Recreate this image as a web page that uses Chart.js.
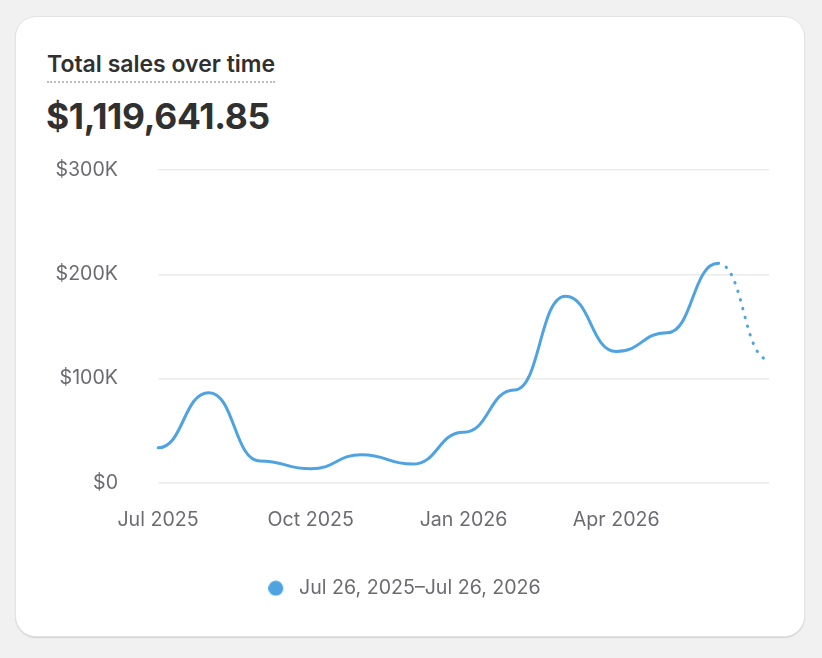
<!DOCTYPE html>
<html>
<head>
<meta charset="utf-8">
<script src="https://cdn.jsdelivr.net/npm/chart.js@4"></script>
<style>
  html, body { margin: 0; padding: 0; }
  body { width: 822px; height: 658px; background: #f1f1f1; position: relative; overflow: hidden; font-family: Inter, "Noto Sans", sans-serif; }
  .card { position: absolute; left: 16px; top: 17px; width: 788px; height: 619px; background: #fff; border-radius: 20px; box-shadow: 0 0 0 1px #e4e4e4, 0 1px 1px 1px #d2d2d2; }
  .title { position: absolute; left: 47px; top: 50px; font-size: 23px; font-weight: 600; color: #303030; line-height: 28px; border-bottom: 2px dotted #bdbdbd; padding-bottom: 3px; }
  .total { position: absolute; left: 46px; top: 95px; font-size: 35.4px; font-weight: 700; color: #303030; line-height: 44px; letter-spacing: -0.3px; }
  #wrap { position: absolute; left: 0; top: 0; width: 822px; height: 658px; }
</style>
</head>
<body>
<div class="card"></div>
<div class="title">Total sales over time</div>
<div class="total">$1,119,641.85</div>
<div id="wrap"><canvas id="salesChart"></canvas></div>
<script>
// --- data ---
const months = ["Jul 2025", "Aug 2025", "Sep 2025", "Oct 2025", "Nov 2025", "Dec 2025",
  "Jan 2026", "Feb 2026", "Mar 2026", "Apr 2026", "May 2026", "Jun 2026", "Jul 2026"];
const sales = [33600, 86500, 21000, 13500, 27000, 18000, 48500, 89000, 179000, 126000, 144000, 210500, 118000];
const yTicks = [0, 100000, 200000, 300000];
const rangeLabel = "Jul 26, 2025\u2013Jul 26, 2026";

const blue = "#4fa3e0";
const grey = "#6b6b72";
const tickFont = { family: "Inter", size: 19.6 };

// legend dot: circle on the left of a small canvas, so the text sits further right
const dot = document.createElement("canvas");
dot.width = 21;
dot.height = 16;
const dctx = dot.getContext("2d");
dctx.fillStyle = blue;
dctx.beginPath();
dctx.arc(7.5, 8, 7.5, 0, Math.PI * 2);
dctx.fill();

const lastIdx = sales.length - 1;

// --- flat tangents at every point (bump curve) ---
const bumpCurve = {
  id: "bumpCurve",
  beforeDatasetDraw(chart, args) {
    const meta = args.meta;
    const line = meta.dataset;
    if (!line) return;
    line.updateControlPoints(chart.chartArea, "x");
    const pts = meta.data;
    pts.forEach((p, i) => {
      const prev = pts[i - 1];
      const next = pts[i + 1];
      p.cp1x = prev ? (prev.x + p.x) / 2 : p.x;
      p.cp1y = p.y;
      p.cp2x = next ? (p.x + next.x) / 2 : p.x;
      p.cp2y = p.y;
    });
  },
};

new Chart(document.getElementById("salesChart"), {
  type: "line",
  data: {
    labels: months,
    datasets: [{
      label: rangeLabel,
      data: sales,
      borderColor: blue,
      backgroundColor: blue,
      borderWidth: 3,
      pointRadius: 0,
      pointHoverRadius: 0,
      tension: 0.4,
      borderCapStyle: "round",
      segment: {
        // last month is still in progress -> dotted
        borderDash: (ctx) => ctx.p1DataIndex === lastIdx ? [0.5, 8.5] : undefined,
      },
    }],
  },
  plugins: [bumpCurve],
  options: {
    responsive: true,
    maintainAspectRatio: false,
    animation: false,
    layout: { padding: { left: 40, top: 170, right: 53, bottom: 50 } },
    plugins: {
      tooltip: { enabled: false },
      legend: {
        position: "bottom",
        labels: {
          usePointStyle: true,
          pointStyle: dot,
          pointStyleWidth: 21,
          boxHeight: 16,
          color: grey,
          font: tickFont,
          padding: 22,
          generateLabels: () => [{
            text: rangeLabel,
            pointStyle: dot,
            fillStyle: blue,
            strokeStyle: blue,
            lineWidth: 0,
            fontColor: grey,
            datasetIndex: 0,
          }],
        },
      },
    },
    scales: {
      x: {
        grid: { display: false, drawTicks: false },
        border: { display: false },
        ticks: {
          autoSkip: false,
          maxRotation: 0,
          padding: 25,
          color: grey,
          font: tickFont,
          callback: (v, i) => (i % 3 === 0 && i < lastIdx) ? months[i] : "",
        },
      },
      y: {
        min: 0,
        max: 300000,
        afterFit: (axis) => { axis.width = 118; },
        afterBuildTicks: (axis) => { axis.ticks = yTicks.map((v) => ({ value: v })); },
        grid: { color: "#ebebeb", lineWidth: 1.5, drawTicks: false },
        border: { display: false },
        ticks: {
          padding: 40,
          color: grey,
          font: tickFont,
          callback: (v) => v === 0 ? "$0" : "$" + (v / 1000) + "K",
        },
      },
    },
  },
});
</script>
</body>
</html>
